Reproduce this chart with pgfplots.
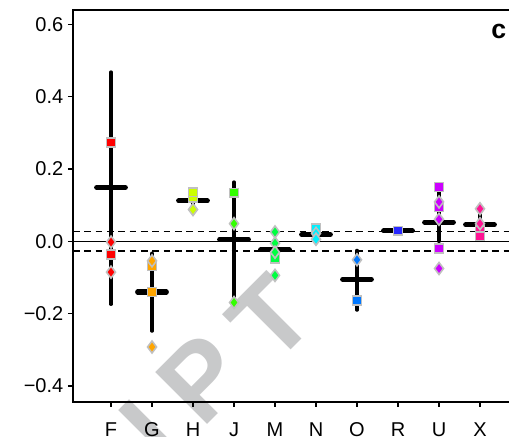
\documentclass[border=0pt]{standalone}
\usepackage{pgfplots}
\pgfplotsset{compat=1.18}
\usepackage{fontspec}
\setmainfont{Liberation Sans}

\definecolor{mk}{RGB}{192,192,192}
\definecolor{wm}{RGB}{200,201,202}
\definecolor{cF}{RGB}{255,0,0}
\definecolor{cG}{RGB}{255,165,0}
\definecolor{cH}{RGB}{204,255,0}
\definecolor{cJ}{RGB}{51,255,0}
\definecolor{cM}{RGB}{0,255,64}
\definecolor{cN}{RGB}{0,240,255}
\definecolor{cO}{RGB}{0,119,255}
\definecolor{cR}{RGB}{40,40,255}
\definecolor{cU}{RGB}{204,0,255}
\definecolor{cX}{RGB}{255,20,147}

\pgfplotsset{
  sq/.style={only marks, mark=square*, mark size=3.3pt,
    mark options={draw=mk, line width=1.2pt, fill=#1}},
  dm/.style={only marks, mark=diamond*, mark size=4.5pt,
    mark options={draw=mk, line width=1.2pt, fill=#1}},
}
\tikzset{
  wmark/.style={rotate=45, anchor=base, inner sep=0pt, text=wm,
    font=\fontsize{80}{80}\bfseries\selectfont},
}

\begin{document}
\begin{tikzpicture}
\begin{axis}[
  set layers,
  scale only axis, width=331.4pt, height=294pt,
  xmin=0.073, xmax=10.85, ymin=-0.444, ymax=0.6395,
  axis line style={line width=1.1pt},
  xtick={1,...,10}, xticklabels={F,G,H,J,M,N,O,R,U,X},
  ytick={-0.4,-0.2,0,0.2,0.4,0.6},
  yticklabels={−0.4,−0.2,0.0,0.2,0.4,0.6},
  tick align=outside, xtick pos=bottom, ytick pos=left,
  major tick length=3.75pt, tick style={black, line width=1pt},
  ticklabel style={font=\fontsize{15}{17}\selectfont},
  xticklabel style={yshift=-8pt},
  clip=false,
  unbounded coords=jump,
]
% watermark, behind everything
\begin{pgfonlayer}{axis background}
\node[wmark] at (axis cs:5.537,-0.286) {T};
\node[wmark] at (axis cs:3.846,-0.451) {P};
\node[wmark] at (axis cs:2.578,-0.595) {I};
\node[wmark] at (axis cs:1.259,-0.744) {R};
\end{pgfonlayer}

% reference lines
\addplot[black, line width=1.1pt] coordinates {(0.073,0) (10.85,0)};
\addplot[black, line width=1.1pt, dash pattern=on 5pt off 3.5pt] coordinates {(0.073,0.027) (10.85,0.027)};
\addplot[black, line width=1.1pt, dash pattern=on 5pt off 3.5pt] coordinates {(0.073,-0.027) (10.85,-0.027)};

% ranges
\addplot[black, line width=2.5pt, line cap=round] coordinates {
  (1,0.468) (1,-0.174) (1,nan)
  (2,-0.033) (2,-0.248) (2,nan)
  (3,0.130) (3,0.095) (3,nan)
  (4,0.164) (4,-0.169) (4,nan)
  (7,-0.025) (7,-0.190) (7,nan)
  (9,0.150) (9,0.000) (9,nan)
  (10,0.090) (10,0.030)
};
% means
\addplot[black, line width=3.8pt, line cap=round] coordinates {
  (0.65,0.149) (1.35,0.149) (1,nan)
  (1.65,-0.140) (2.35,-0.140) (2,nan)
  (2.65,0.112) (3.35,0.112) (3,nan)
  (3.65,0.006) (4.35,0.006) (4,nan)
  (4.65,-0.023) (5.35,-0.023) (5,nan)
  (5.65,0.019) (6.35,0.019) (6,nan)
  (6.65,-0.105) (7.35,-0.105) (7,nan)
  (7.65,0.029) (8.35,0.029) (8,nan)
  (8.65,0.053) (9.35,0.053) (9,nan)
  (9.65,0.046) (10.35,0.046)
};

% members
\addplot[sq=cF] coordinates {(1,0.273) (1,-0.036)};
\addplot[dm=cF] coordinates {(1,-0.002) (1,-0.085)};
\addplot[sq=cG] coordinates {(2,-0.068) (2,-0.140)};
\addplot[dm=cG] coordinates {(2,-0.054) (2,-0.292)};
\addplot[sq=cH] coordinates {(3,0.121) (3,0.136)};
\addplot[dm=cH] coordinates {(3,0.088)};
\addplot[sq=cJ] coordinates {(4,0.134)};
\addplot[dm=cJ] coordinates {(4,0.049) (4,-0.169)};
\addplot[sq=cM] coordinates {(5,-0.047)};
\addplot[dm=cM] coordinates {(5,0.026) (5,-0.005) (5,-0.030) (5,-0.094)};
\addplot[sq=cN] coordinates {(6,0.035)};
\addplot[dm=cN] coordinates {(6,0.022) (6,0.006)};
\addplot[sq=cO] coordinates {(7,-0.163)};
\addplot[dm=cO] coordinates {(7,-0.051)};
\addplot[sq=cR] coordinates {(8,0.029)};
\addplot[sq=cU] coordinates {(9,0.150) (9,0.095) (9,-0.020)};
\addplot[dm=cU] coordinates {(9,0.109) (9,0.061) (9,-0.075)};
\addplot[sq=cX] coordinates {(10,0.030) (10,0.014)};
\addplot[dm=cX] coordinates {(10,0.090) (10,0.049)};

\node[font=\fontsize{20}{20}\bfseries\selectfont] at (axis cs:10.46,0.579) {c};

\coordinate (bl) at (rel axis cs:0,0);
\coordinate (tr) at (axis cs:10.707,0.6395);
\end{axis}
\pgfresetboundingbox
\path ([shift={(-54.75pt,-26.25pt)}]bl) rectangle ([shift={(0pt,7.5pt)}]tr);
\end{tikzpicture}
\end{document}
